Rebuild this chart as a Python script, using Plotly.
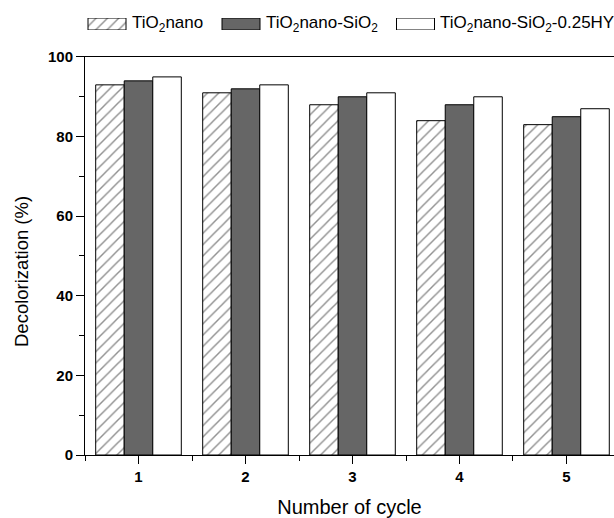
import plotly.graph_objects as go

cycles = [1, 2, 3, 4, 5]
tio2_nano = [93, 91, 88, 84, 83]
tio2_sio2 = [94, 92, 90, 88, 85]
tio2_sio2_hy = [95, 93, 91, 90, 87]
series_names = ["TiO<sub>2</sub>nano", "TiO<sub>2</sub>nano-SiO<sub>2</sub>",
                "TiO<sub>2</sub>nano-SiO<sub>2</sub>-0.25HY"]
y_ticks = [0, 20, 40, 60, 80, 100]

FONT = "Liberation Sans, Arial, sans-serif"
DARK = "#666666"
HATCH = dict(shape="/", fgcolor="#222222", bgcolor="white", size=8, solidity=0.18)
LINE = dict(color="black", width=1)

# plot-area geometry in pixels (used to place layout decorations)
PL, PR, PT, PB = 85, 614, 10, 455

fig = go.Figure()
fig.add_trace(go.Bar(x=cycles, y=tio2_nano, name=series_names[0],
                     marker=dict(color="white", pattern=HATCH, line=LINE)))
fig.add_trace(go.Bar(x=cycles, y=tio2_sio2, name=series_names[1],
                     marker=dict(color=DARK, line=LINE)))
fig.add_trace(go.Bar(x=cycles, y=tio2_sio2_hy, name=series_names[2],
                     marker=dict(color="white", line=LINE)))

# custom legend row (swatches on a hidden pixel-scaled axis pair)
leg_x = [107, 241, 415.5]
leg_text_x = [130, 264, 437.5]
leg_styles = [dict(color="white", pattern=HATCH, line=LINE),
              dict(color=DARK, line=LINE),
              dict(color="white", line=LINE)]
for i in range(3):
    fig.add_trace(go.Bar(x=[leg_x[i]], y=[1], width=[38], marker=leg_styles[i],
                         xaxis="x2", yaxis="y2", showlegend=False, hoverinfo="skip"))
    fig.add_annotation(x=leg_text_x[i], y=0.5, xref="x2", yref="y2", text=series_names[i],
                       showarrow=False, xanchor="left", yanchor="middle",
                       font=dict(family=FONT, size=17, color="black"))

# y-axis title placed as an annotation (paper coords)
fig.add_annotation(x=(21 - PL) / (PR - PL), y=(PB - 272) / (PB - PT), xref="paper",
                   yref="paper", text="Decolorization (%)", showarrow=False,
                   textangle=-90, xanchor="center", yanchor="middle",
                   font=dict(family=FONT, size=18.5, color="black"))

fig.update_layout(
    width=614, height=518,
    margin=dict(l=PL, r=614 - PR, t=PT, b=518 - PB),
    paper_bgcolor="white", plot_bgcolor="white",
    barmode="group", bargap=0.2, bargroupgap=0,
    showlegend=False,
    font=dict(family=FONT, color="black"),
    xaxis=dict(range=[0.5, 5.444], tickvals=cycles, ticks="outside", ticklen=8,
               tickwidth=1, tickcolor="black", showline=True, linecolor="black",
               linewidth=1, mirror=True, showgrid=False, zeroline=False,
               tickfont=dict(family=FONT, size=15, weight="bold"),
               minor=dict(dtick=0.5, tick0=0.5, ticks="outside", ticklen=5,
                          tickcolor="black", showgrid=False),
               title=dict(text="Number of cycle", font=dict(family=FONT, size=20),
                          standoff=18)),
    yaxis=dict(domain=[0, 0.8944], range=[0, 100], tickvals=y_ticks, ticks="outside",
               ticklen=8, tickwidth=1, tickcolor="black", showline=True,
               linecolor="black", linewidth=1, showgrid=False, zeroline=False,
               tickfont=dict(family=FONT, size=15, weight="bold"),
               minor=dict(dtick=10, ticks="outside", ticklen=5, tickcolor="black",
                          showgrid=False)),
    xaxis2=dict(domain=[0, 1], range=[PL, PR], anchor="y2", visible=False),
    yaxis2=dict(domain=[0.955, 0.982], range=[0, 1], anchor="x2", visible=False),
)

fig.write_html("out.html", config={"displayModeBar": False},
               post_script="document.body.style.margin='0';document.body.style.overflow='hidden';")
